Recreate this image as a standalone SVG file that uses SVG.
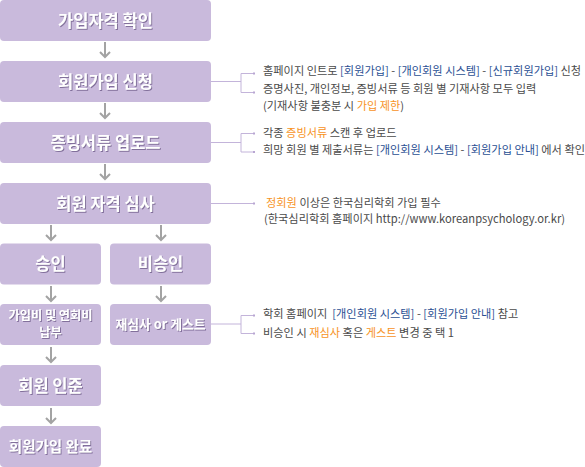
<svg xmlns="http://www.w3.org/2000/svg" width="585" height="467" viewBox="0 0 585 467">
<style>
.box{fill:#c9badc}
.bt{font-family:"Noto Sans CJK KR","Noto Sans",sans-serif;font-weight:bold;fill:#ffffff;text-anchor:middle;filter:url(#sh)}
.arr{fill:none;stroke:#a3a3a3;stroke-width:2}
.con{fill:none;stroke:#c3b4da;stroke-width:1}
.dot{fill:#b8a6d2}
.tx{font-family:"Noto Sans CJK KR","Noto Sans",sans-serif;font-size:11.2px;fill:#4a4a4a}
.b{fill:#2a4f93}
.o{fill:#f7931e}
</style>
<defs>
<filter id="sh" x="-10%" y="-30%" width="120%" height="160%">
<feDropShadow dx="1" dy="1" stdDeviation="0.7" flood-color="#76648f" flood-opacity="0.85"/>
</filter>
</defs>
<g id="n1"><rect class="box" x="0" y="0" width="211" height="41" rx="4"/><text class="bt" x="105.5" y="26.5" font-size="16.5">가입자격 확인</text></g>
<g id="n2"><rect class="box" x="0" y="61" width="211" height="41" rx="4"/><text class="bt" x="105.5" y="87.5" font-size="16.5">회원가입 신청</text></g>
<g id="n3"><rect class="box" x="0" y="122" width="211" height="41" rx="4"/><text class="bt" x="105.5" y="148.5" font-size="16.5">증빙서류 업로드</text></g>
<g id="n4"><rect class="box" x="0" y="183" width="211" height="41" rx="4"/><text class="bt" x="105.5" y="209.5" font-size="16.5">회원 자격 심사</text></g>
<g id="n5"><rect class="box" x="0" y="243.5" width="101" height="41" rx="4"/><text class="bt" x="50.5" y="270" font-size="16.5">승인</text></g>
<g id="n6"><rect class="box" x="110" y="243.5" width="101" height="41" rx="4"/><text class="bt" x="160.5" y="270" font-size="16.5">비승인</text></g>
<g id="n7"><rect class="box" x="0" y="304" width="101" height="41" rx="4"/><text class="bt" font-size="12.2"><tspan x="50.5" y="319.5">가입비 및 연회비</tspan><tspan x="50.5" y="337">납부</tspan></text></g>
<g id="n8"><rect class="box" x="110" y="304" width="101" height="41" rx="4"/><text class="bt" x="160.5" y="329" font-size="12.8">재심사 or 게스트</text></g>
<g id="n9"><rect class="box" x="0" y="365" width="101" height="41" rx="4"/><text class="bt" x="50.5" y="391.5" font-size="16.5">회원 인준</text></g>
<g id="n10"><rect class="box" x="0" y="426" width="101" height="41" rx="4"/><text class="bt" x="50.5" y="452" font-size="14.5">회원가입 완료</text></g>
<g id="connectors">
<path class="arr" d="M105 42V57M100 52L105 57L110 52"/>
<path class="arr" d="M105 103V118M100 113L105 118L110 113"/>
<path class="arr" d="M105 164V179M100 174L105 179L110 174"/>
<path class="arr" d="M51 225V240M46 235L51 240L56 235"/>
<path class="arr" d="M161 225V240M156 235L161 240L166 235"/>
<path class="arr" d="M51 286V301M46 296L51 301L56 296"/>
<path class="arr" d="M161 286V301M156 296L161 301L166 296"/>
<path class="arr" d="M51 347V362M46 357L51 362L56 357"/>
<path class="arr" d="M51 408V423M46 418L51 423L56 418"/>
<path class="con" d="M211 81.5H241M241 73.5V92.5M241 73.5H253M241 92.5H253"/>
<path class="con" d="M211 142.5H241M241 133.5V152M241 133.5H253M241 152H253"/>
<path class="con" d="M211 203.5H253"/>
<path class="con" d="M211 324H241M241 315.5V333.5M241 315.5H253M241 333.5H253"/>
<rect class="dot" x="253" y="72.5" width="2" height="2"/>
<rect class="dot" x="253" y="91.5" width="2" height="2"/>
<rect class="dot" x="253" y="132.5" width="2" height="2"/>
<rect class="dot" x="253" y="151" width="2" height="2"/>
<rect class="dot" x="253" y="202.5" width="2" height="2"/>
<rect class="dot" x="253" y="314.5" width="2" height="2"/>
<rect class="dot" x="253" y="332.5" width="2" height="2"/>
</g>
<g id="notes">
<text class="tx" x="263" y="75">홈페이지 인트로 <tspan class="b">[회원가입]</tspan> - <tspan class="b">[개인회원 시스템]</tspan> - <tspan class="b">[신규회원가입]</tspan> 신청</text>
<text class="tx" x="263" y="92.5">증명사진, 개인정보, 증빙서류 등 회원 별 기재사항 모두 입력</text>
<text class="tx" x="263" y="110">(기재사항 불충분 시 <tspan class="o">가입 제한</tspan>)</text>
<text class="tx" x="263" y="136.5">각종 <tspan class="o">증빙서류</tspan> 스캔 후 업로드</text>
<text class="tx" x="263" y="154">희망 회원 별 제출서류는 <tspan class="b">[개인회원 시스템]</tspan> - <tspan class="b">[회원가입 안내]</tspan> 에서 확인</text>
<text class="tx" x="266" y="206.5"><tspan class="o">정회원</tspan> 이상은 한국심리학회 가입 필수</text>
<text class="tx" x="264" y="223">(한국심리학회 홈페이지 http://www.koreanpsychology.or.kr)</text>
<text class="tx" x="263" y="318">학회 홈페이지 &#160;<tspan class="b">[개인회원 시스템]</tspan> - <tspan class="b">[회원가입 안내]</tspan> 참고</text>
<text class="tx" x="263" y="336.5">비승인 시 <tspan class="o">재심사</tspan> 혹은 <tspan class="o">게스트</tspan> 변경 중 택 1</text>
</g>
</svg>
